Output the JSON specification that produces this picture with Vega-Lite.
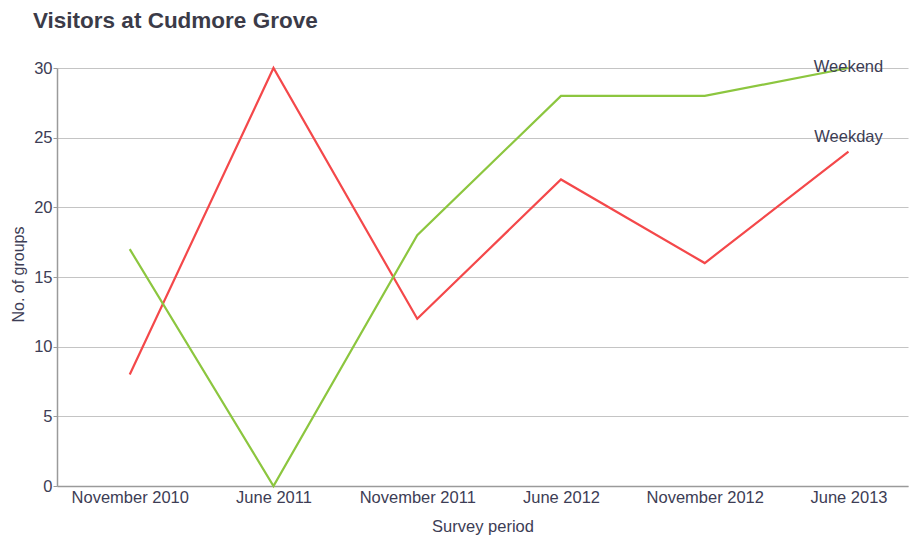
{
  "$schema": "https://vega.github.io/schema/vega-lite/v6.json",
  "autosize": "none",
  "width": 851,
  "height": 418,
  "padding": {"left": 57, "top": 68, "right": 1, "bottom": 51},
  "background": "white",
  "config": {
    "font": "Liberation Sans",
    "view": {"stroke": null}
  },
  "title": {
    "text": "Visitors at Cudmore Grove",
    "anchor": "start",
    "frame": "group",
    "dx": -24,
    "fontSize": 22.5,
    "fontWeight": "bold",
    "color": "#3b3b48",
    "offset": 27
  },
  "datasets": {
    "visits": [
      {"period": "November 2010", "series": "Weekday", "groups": 8},
      {"period": "June 2011", "series": "Weekday", "groups": 30},
      {"period": "November 2011", "series": "Weekday", "groups": 12},
      {"period": "June 2012", "series": "Weekday", "groups": 22},
      {"period": "November 2012", "series": "Weekday", "groups": 16},
      {"period": "June 2013", "series": "Weekday", "groups": 24},
      {"period": "November 2010", "series": "Weekend", "groups": 17},
      {"period": "June 2011", "series": "Weekend", "groups": 0},
      {"period": "November 2011", "series": "Weekend", "groups": 18},
      {"period": "June 2012", "series": "Weekend", "groups": 28},
      {"period": "November 2012", "series": "Weekend", "groups": 28},
      {"period": "June 2013", "series": "Weekend", "groups": 30}
    ],
    "labels": [
      {"period": "June 2013", "series": "Weekend", "groups": 30},
      {"period": "June 2013", "series": "Weekday", "groups": 25}
    ]
  },
  "layer": [
    {
      "data": {"name": "visits"},
      "mark": {"type": "line", "strokeWidth": 2.2},
      "encoding": {
        "x": {
          "field": "period",
          "type": "ordinal",
          "sort": null,
          "scale": {"type": "point", "padding": 0.46, "align": 0.55},
          "axis": {
            "title": "Survey period",
            "labelAngle": 0,
            "labelFontSize": 16.5,
            "labelColor": "#3d3d55",
            "labelPadding": 3,
            "ticks": false,
            "domainColor": "#9a9a9a",
            "domainWidth": 1.5,
            "grid": false,
            "titleFontSize": 16.5,
            "titleFontWeight": "normal",
            "titleColor": "#3d3d55",
            "titlePadding": 13
          }
        },
        "y": {
          "field": "groups",
          "type": "quantitative",
          "scale": {"domain": [0, 30], "nice": false},
          "axis": {
            "title": "No. of groups",
            "values": [0, 5, 10, 15, 20, 25, 30],
            "labelFontSize": 16.5,
            "labelColor": "#3d3d55",
            "labelPadding": 1,
            "tickSize": 4,
            "tickColor": "#9a9a9a",
            "domainColor": "#9a9a9a",
            "domainWidth": 1.5,
            "gridColor": "#c4c4c4",
            "gridWidth": 1.2,
            "titleFontSize": 16,
            "titleFontWeight": "normal",
            "titleColor": "#3d3d55",
            "titlePadding": 7,
            "titleY": 206
          }
        },
        "color": {
          "field": "series",
          "type": "nominal",
          "scale": {"domain": ["Weekday", "Weekend"], "range": ["#f4484a", "#8cc63f"]},
          "legend": null
        }
      }
    },
    {
      "data": {"name": "labels"},
      "mark": {"type": "text", "fontSize": 16.5, "color": "#3d3d55", "align": "center", "baseline": "middle", "dy": -1},
      "encoding": {
        "x": {"field": "period", "type": "ordinal", "sort": null},
        "y": {"field": "groups", "type": "quantitative"},
        "text": {"field": "series"}
      }
    }
  ]
}
